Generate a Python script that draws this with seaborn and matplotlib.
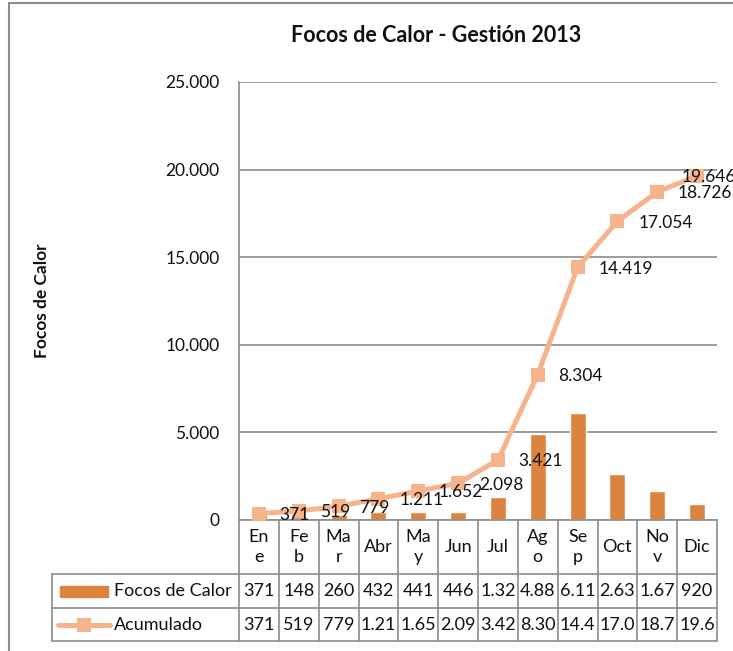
import matplotlib
matplotlib.use("Agg")
import matplotlib.pyplot as plt
from matplotlib.patches import Rectangle
from matplotlib.lines import Line2D
import seaborn as sns
import pandas as pd

# datos
meses = ["Ene", "Feb", "Mar", "Abr", "May", "Jun", "Jul", "Ago", "Sep", "Oct", "Nov", "Dic"]
meses_tabla = ["En\ne", "Fe\nb", "Ma\nr", "Abr", "Ma\ny", "Jun", "Jul", "Ag\no", "Se\np", "Oct", "No\nv", "Dic"]
focos = [371, 148, 260, 432, 441, 446, 1323, 4883, 6115, 2635, 1672, 920]
acumulado = [371, 519, 779, 1211, 1652, 2098, 3421, 8304, 14419, 17054, 18726, 19646]

BAR = "#DC843F"
LINE = "#F5B48C"
GRID = "#8C8C8C"
TXT = "#111111"


def fmt(v):
    return f"{v:,}".replace(",", ".")


def celda(v):
    # la tabla de Excel corta los numeros a 4 caracteres
    return fmt(v)[:4]


sns.set_style("white")
plt.rcParams["font.family"] = ["Lato", "DejaVu Sans"]

df = pd.DataFrame({"mes": meses, "pos": range(len(meses)),
                   "focos": focos, "acumulado": acumulado})

W, H = 733, 651
fig = plt.figure(figsize=(W / 100, H / 100), dpi=100)
ax = fig.add_axes([239 / W, 131 / H, 478 / W, 438 / H])

sns.barplot(data=df, x="mes", y="focos", color=BAR, width=0.4,
            saturation=1, ax=ax, zorder=2)
sns.lineplot(data=df, x="pos", y="acumulado", color=LINE, lw=3.6,
             marker="s", markersize=10, markeredgewidth=0, ax=ax, zorder=3)

for i, v in enumerate(acumulado):
    # la ultima etiqueta no cabe a la derecha: Excel la corre sobre el punto
    dx = 15 if i < len(acumulado) - 1 else -11
    ax.annotate(fmt(v), (i, v), xytext=(dx, -1), textcoords="offset points",
                ha="left", va="center", fontsize=12.5, color=TXT,
                annotation_clip=False, zorder=4)

ax.set_xlim(-0.5, len(meses) - 0.5)
ax.set_ylim(0, 25000)
ticks = list(range(0, 25001, 5000))
ax.set_yticks(ticks)
ax.set_yticklabels([fmt(t) for t in ticks])
ax.set_xticks([])
ax.set_xlabel("")
ax.yaxis.grid(True, color=GRID, lw=1.2)
ax.set_axisbelow(True)
ax.tick_params(axis="y", length=0, pad=14, labelsize=12.5, labelcolor=TXT)
for s in ["top", "right"]:
    ax.spines[s].set_visible(False)
for s in ["left", "bottom"]:
    ax.spines[s].set_color(GRID)
    ax.spines[s].set_linewidth(1.2)

ax.set_ylabel("Focos de Calor", fontsize=12.5, fontweight="bold", color=TXT)
ax.yaxis.set_label_coords(-0.395, 0.5)

fig.text(436 / W, 1 - 36 / H, "Focos de Calor - Gestión 2013", ha="center",
         va="center", fontsize=15.5, fontweight="bold", color=TXT)

# tabla de datos bajo el eje
ah = 438
y1, y2, y3 = -54 / ah, -88 / ah, -121 / ah
xl = (52 - 239) / 478
tx = ax.get_xaxis_transform()
ta = ax.transAxes
for y in [y1, y2, y3]:
    ax.add_line(Line2D([xl, 1], [y, y], transform=ta, color=GRID, lw=1.2, clip_on=False))
ax.add_line(Line2D([xl, xl], [y1, y3], transform=ta, color=GRID, lw=1.2, clip_on=False))
for k in range(len(meses) + 1):
    ax.add_line(Line2D([k - 0.5, k - 0.5], [0, y3], transform=tx, color=GRID,
                       lw=1.2, clip_on=False))

for i in range(len(meses)):
    ax.text(i, y1 / 2, meses_tabla[i], transform=tx, ha="center", va="center",
            fontsize=13, color=TXT, linespacing=1.3)
    ax.text(i, (y1 + y2) / 2, celda(focos[i]), transform=tx, ha="center",
            va="center", fontsize=13, color=TXT)
    ax.text(i, (y2 + y3) / 2, celda(acumulado[i]), transform=tx, ha="center",
            va="center", fontsize=13, color=TXT)

# claves de la leyenda dentro de la tabla
ax.add_patch(Rectangle(((60 - 239) / 478, -(597 - 520) / ah), 48 / 478, 11 / ah,
                       transform=ta, color=BAR, clip_on=False))
ym = (y2 + y3) / 2
ax.add_line(Line2D([(58 - 239) / 478, (110 - 239) / 478], [ym, ym], transform=ta,
                   color=LINE, lw=3.6, clip_on=False))
ax.add_line(Line2D([(84 - 239) / 478], [ym], transform=ta, color=LINE, marker="s",
                   markersize=10, markeredgewidth=0, clip_on=False))
ax.text((114 - 239) / 478, (y1 + y2) / 2, "Focos de Calor", transform=ta,
        ha="left", va="center", fontsize=13, color=TXT)
ax.text((114 - 239) / 478, ym, "Acumulado", transform=ta,
        ha="left", va="center", fontsize=13, color=TXT)

# marco del area del grafico
fig.add_artist(Rectangle((9 / W, -0.02), 1.1, 1.02 - 3 / H, transform=fig.transFigure,
                         fill=False, ec=GRID, lw=1.5))

fig.savefig("out.png", dpi=100)
